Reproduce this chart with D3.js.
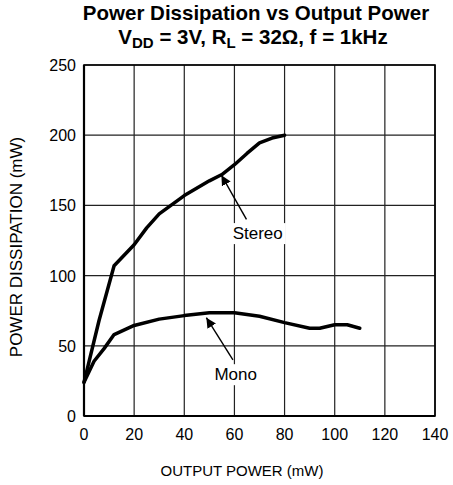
<!DOCTYPE html>
<html>
<head>
<meta charset="utf-8">
<script src="https://cdn.jsdelivr.net/npm/d3@7"></script>
<style>
  body { margin: 0; background: #fff; }
  text { font-family: "Liberation Sans", Arial, Helvetica, sans-serif; fill: #000; }
</style>
</head>
<body>
<svg id="chart"></svg>
<script>
// values
var xTicks = [0, 20, 40, 60, 80, 100, 120, 140];
var yTicks = [0, 50, 100, 150, 200, 250];

var stereoX = [0, 6, 12, 20, 25, 30, 40, 50, 55, 60, 65, 70, 75, 80];
var stereoY = [24, 68, 107, 122, 134, 144, 157, 167.5, 172, 179, 187, 194.5, 198, 200];

var monoX = [0, 4, 8, 12, 20, 30, 40, 50, 60, 70, 80, 90, 94, 100, 105, 110];
var monoY = [24, 39, 48, 58, 64.5, 69, 71.5, 73.5, 73.5, 71, 66.5, 62.5, 62.5, 65, 65, 62.5];

// label text, arrow tail and arrow tip in data units
var labels = [
  { name: "Stereo", at: [69.3, 126], tail: [64.8, 140], tip: [54.8, 171.5] },
  { name: "Mono",   at: [60.5, 25.5], tail: [59.4, 40], tip: [48.8, 70] }
];

var w = 453;
var h = 485;
var margin = { top: 65, right: 18, bottom: 69, left: 84 };

var svg = d3.select("#chart")
  .attr("width", w)
  .attr("height", h);

var x = d3.scaleLinear().domain([0, 140]).range([margin.left, w - margin.right]);
var y = d3.scaleLinear().domain([0, 250]).range([h - margin.bottom, margin.top]);

// title
svg.append("text")
  .attr("x", 256)
  .attr("y", 20)
  .attr("text-anchor", "middle")
  .attr("font-weight", "bold")
  .attr("font-size", 20.5)
  .text("Power Dissipation vs Output Power");

var sub = svg.append("text")
  .attr("x", 253)
  .attr("y", 44)
  .attr("text-anchor", "middle")
  .attr("font-weight", "bold")
  .attr("font-size", 20.5);
sub.append("tspan").text("V");
sub.append("tspan").attr("font-size", 15).attr("dy", 4).text("DD");
sub.append("tspan").attr("dy", -4).text(" = 3V, R");
sub.append("tspan").attr("font-size", 15).attr("dy", 4).text("L");
sub.append("tspan").attr("dy", -4).text(" = 32\u03A9, f = 1kHz");

// grid
svg.append("g")
  .selectAll("line")
  .data(xTicks)
  .join("line")
  .attr("x1", d => x(d)).attr("x2", d => x(d))
  .attr("y1", y(0)).attr("y2", y(250))
  .attr("stroke", "#222")
  .attr("stroke-width", 1.2);

svg.append("g")
  .selectAll("line")
  .data(yTicks)
  .join("line")
  .attr("x1", x(0)).attr("x2", x(140))
  .attr("y1", d => y(d)).attr("y2", d => y(d))
  .attr("stroke", "#222")
  .attr("stroke-width", 1.2);

// frame
svg.append("rect")
  .attr("x", x(0)).attr("y", y(250))
  .attr("width", x(140) - x(0))
  .attr("height", y(0) - y(250))
  .attr("fill", "none")
  .attr("stroke", "#000")
  .attr("stroke-width", 1.6);

svg.append("line")
  .attr("x1", x(0)).attr("x2", x(140))
  .attr("y1", y(0)).attr("y2", y(0))
  .attr("stroke", "#000").attr("stroke-width", 2.2);
svg.append("line")
  .attr("x1", x(0)).attr("x2", x(0))
  .attr("y1", y(0)).attr("y2", y(250))
  .attr("stroke", "#000").attr("stroke-width", 2.2);

// tick labels
svg.append("g")
  .selectAll("text")
  .data(xTicks)
  .join("text")
  .attr("x", d => x(d))
  .attr("y", y(0) + 24)
  .attr("text-anchor", "middle")
  .attr("font-size", 16)
  .text(d => d);

svg.append("g")
  .selectAll("text")
  .data(yTicks)
  .join("text")
  .attr("x", x(0) - 8)
  .attr("y", d => y(d) + 6)
  .attr("text-anchor", "end")
  .attr("font-size", 16)
  .text(d => d);

// axis titles
svg.append("text")
  .attr("x", 242)
  .attr("y", 476)
  .attr("text-anchor", "middle")
  .attr("font-size", 15)
  .text("OUTPUT POWER (mW)");

svg.append("text")
  .attr("transform", "translate(22,247) rotate(-90)")
  .attr("text-anchor", "middle")
  .attr("font-size", 17)
  .text("POWER DISSIPATION (mW)");

// curves
var line = d3.line()
  .x(d => x(d[0]))
  .y(d => y(d[1]));

var stereo = d3.zip(stereoX, stereoY);
var mono = d3.zip(monoX, monoY);

svg.append("path")
  .datum(stereo)
  .attr("d", line)
  .attr("fill", "none")
  .attr("stroke", "#000")
  .attr("stroke-width", 3.5)
  .attr("stroke-linejoin", "round")
  .attr("stroke-linecap", "round");

svg.append("path")
  .datum(mono)
  .attr("d", line)
  .attr("fill", "none")
  .attr("stroke", "#000")
  .attr("stroke-width", 3.5)
  .attr("stroke-linejoin", "round")
  .attr("stroke-linecap", "round");

// labels with arrows
svg.append("defs").append("marker")
  .attr("id", "head")
  .attr("viewBox", "0 0 10 10")
  .attr("refX", 10).attr("refY", 5)
  .attr("markerWidth", 10).attr("markerHeight", 10)
  .attr("markerUnits", "userSpaceOnUse")
  .attr("orient", "auto")
  .append("path")
  .attr("d", "M0,0 L10,5 L0,10 z")
  .attr("fill", "#000");

labels.forEach(function (l) {
  var g = svg.append("g");
  var t = g.append("text")
    .attr("x", x(l.at[0]))
    .attr("y", y(l.at[1]))
    .attr("text-anchor", "middle")
    .attr("font-size", 17)
    .text(l.name);
  var b = t.node().getBBox();
  g.insert("rect", "text")
    .attr("x", b.x - 3).attr("y", b.y - 1)
    .attr("width", b.width + 6).attr("height", b.height + 2)
    .attr("fill", "#fff");
  g.append("line")
    .attr("x1", x(l.tail[0])).attr("y1", y(l.tail[1]))
    .attr("x2", x(l.tip[0])).attr("y2", y(l.tip[1]))
    .attr("stroke", "#000")
    .attr("stroke-width", 1.4)
    .attr("marker-end", "url(#head)");
});
</script>
</body>
</html>
